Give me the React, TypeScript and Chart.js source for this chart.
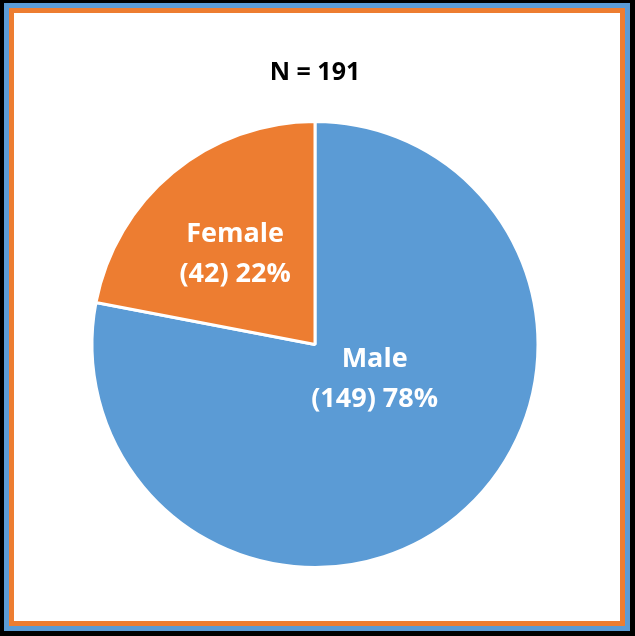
import React, { useEffect, useRef } from 'react';
import { Chart, ChartConfiguration, Plugin } from 'chart.js/auto';

const categories = ['Male', 'Female'];
const counts = [149, 42];
const percents = [78, 22];
const sliceColors = ['#5B9BD5', '#ED7D31'];
const titleText = 'N = 191';

// where each label sits, as angle shift from slice middle (deg) and fraction of radius
const labelAngleShift = [-20, -2];
const labelRadiusFrac = [0.31, 0.54];

const FONT = "'Open Sans', 'DejaVu Sans', sans-serif";

const sliceLabels: Plugin<'pie'> = {
  id: 'sliceLabels',
  afterDatasetsDraw(chart) {
    const ctx = chart.ctx;
    const meta = chart.getDatasetMeta(0);
    ctx.save();
    ctx.fillStyle = '#ffffff';
    ctx.font = `bold 27px ${FONT}`;
    ctx.textAlign = 'center';
    ctx.textBaseline = 'middle';
    meta.data.forEach((arc, i) => {
      const p = arc.getProps(['x', 'y', 'startAngle', 'endAngle', 'outerRadius'], true) as any;
      const mid = (p.startAngle + p.endAngle) / 2 + (labelAngleShift[i] * Math.PI) / 180;
      const r = p.outerRadius * labelRadiusFrac[i];
      const cx = p.x + Math.cos(mid) * r;
      const cy = p.y + Math.sin(mid) * r;
      ctx.fillText(categories[i], cx, cy - 20);
      ctx.fillText(`(${counts[i]}) ${percents[i]}%`, cx, cy + 20);
    });
    ctx.restore();
  },
};

const App: React.FC = () => {
  const canvasRef = useRef<HTMLCanvasElement | null>(null);

  useEffect(() => {
    let chart: Chart<'pie'> | undefined;
    if (canvasRef.current) {
      const config: ChartConfiguration<'pie'> = {
        type: 'pie',
        data: {
          labels: categories,
          datasets: [{
            data: counts,
            backgroundColor: sliceColors,
            borderColor: '#ffffff',
            borderWidth: 3,
          }],
        },
        options: {
          responsive: false,
          animation: false,
          layout: { padding: { top: 0, left: 76, right: 80, bottom: 52 } },
          plugins: {
            legend: { display: false },
            tooltip: { enabled: false },
            title: {
              display: true,
              text: titleText,
              color: '#000000',
              font: { family: FONT, size: 25, weight: 'bold', lineHeight: 1.2 },
              padding: { top: 45, bottom: 32 },
            },
          },
        },
        plugins: [sliceLabels],
      };
      chart = new Chart(canvasRef.current, config);
    }
    return () => {
      chart?.destroy();
    };
  }, []);

  return (
    <div style={{ position: 'absolute', left: 0, top: 0, width: 635, height: 636, boxSizing: 'border-box', background: '#000', paddingLeft: 4, paddingTop: 3, paddingRight: 5, paddingBottom: 5 }}>
      <div style={{ width: '100%', height: '100%', boxSizing: 'border-box', background: '#5B9BD5', padding: 5 }}>
        <div style={{ width: '100%', height: '100%', boxSizing: 'border-box', background: '#ED7D31', padding: 5 }}>
          <div style={{ width: 606, height: 608, background: '#ffffff' }}>
            <canvas ref={canvasRef} width={606} height={608} style={{ display: 'block' }} />
          </div>
        </div>
      </div>
    </div>
  );
};

export default App;
